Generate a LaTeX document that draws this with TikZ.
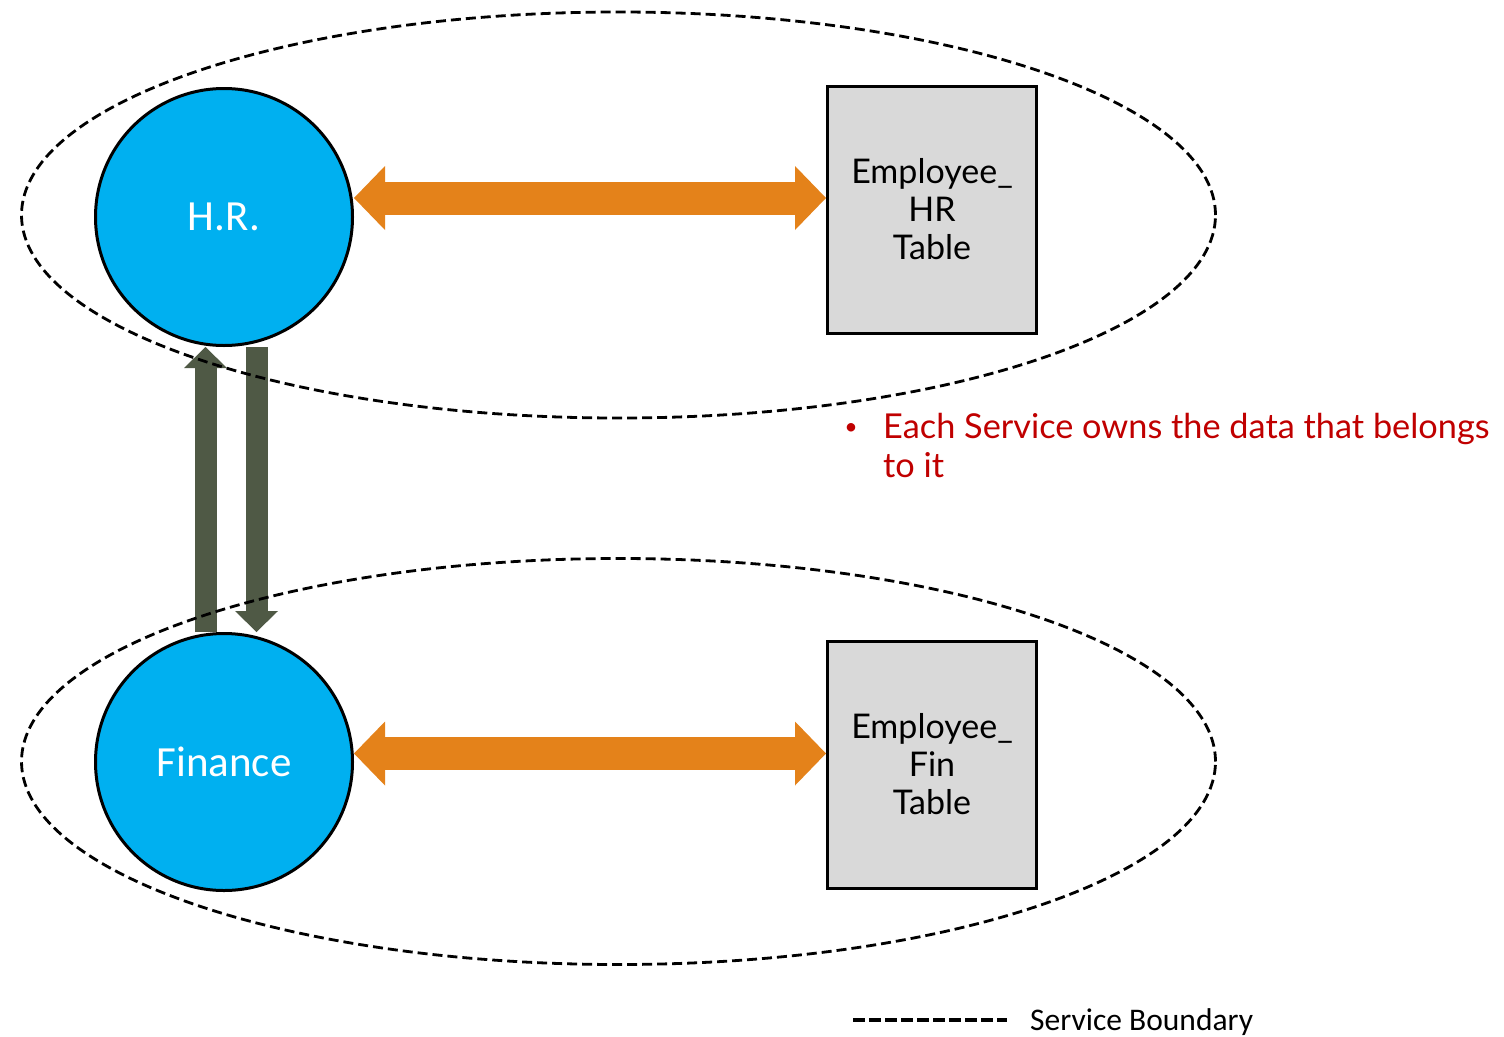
\documentclass[tikz,border=0pt]{standalone}
\usepackage{fontspec}
\setmainfont{Carlito}
\newfontfamily\handfont{Lato}
\usetikzlibrary{arrows.meta,calc}
\definecolor{svcblue}{HTML}{00B0F0}
\definecolor{flow}{HTML}{E4821A}
\definecolor{callgreen}{HTML}{4F5945}
\definecolor{tablegray}{HTML}{D9D9D9}
\definecolor{notered}{HTML}{C00000}

\begin{document}
\begin{tikzpicture}[x=1pt,y=-1pt,
  service/.style={circle, draw=black, line width=3pt, fill=svcblue,
    minimum size=257pt, inner sep=0pt, text=white,
    font=\fontsize{43}{50}\selectfont},
  tablebox/.style={rectangle, draw=black, line width=3pt, fill=tablegray,
    minimum width=209pt, minimum height=247pt, inner sep=0pt, align=center,
    font=\handfont\fontsize{34}{38}\selectfont},
  dataflow/.style={draw=flow, line width=33pt,
    {Triangle[width=64pt,length=31pt,line width=0pt]}-{Triangle[width=64pt,length=31pt,line width=0pt]}},
  callflow/.style={draw=callgreen, line width=22pt,
    -{Triangle[width=43pt,length=21pt,line width=0pt]}},
  boundary/.style={draw=black, line width=2.8pt, dash pattern=on 10pt off 5pt},
]
\useasboundingbox (0,0) rectangle (1504,1036);

% services and their tables
\node[service] (hr)  at (224,217) {H.R.};
\node[service] (fin) at (224,762) {Finance};
\node[tablebox] (hrtab)  at (932,209.5) {Employee\_\\HR\\Table};
\node[tablebox] (fintab) at (932,764.5) {Employee\_\\Fin\\Table};

% each service talks only to its own table
\draw[dataflow] ([yshift=19pt]hr.east) coordinate (hrflow) -- (hrflow -| hrtab.west);
\draw[dataflow] ([yshift=8.5pt]fin.east) coordinate (finflow) -- (finflow -| fintab.west);

% calls between the services
\draw[callflow] ([xshift=-18.5pt]fin.north) -- ([xshift=-18.5pt]hr.south);
\draw[callflow] ([xshift=32.5pt]hr.south) -- ([xshift=32.5pt]fin.north);

% service boundaries
\draw[boundary] (618.5,215) ellipse [x radius=597pt, y radius=203pt];
\draw[boundary] (618.5,761.5) ellipse [x radius=597pt, y radius=203pt];

% note
\node[anchor=base, text=notered, font=\fontsize{24}{30}\selectfont] (bullet) at (851,434) {•};
\node[anchor=base west, inner sep=0pt, text=notered, font=\handfont\fontsize{34.3}{39}\selectfont] (note) at (883,438)
  {\parbox[t]{640pt}{\raggedright Each Service owns the data that belongs\\to it}};

% legend
\coordinate (legA) at (853,1020);
\coordinate (legB) at (1007,1020);
\draw[draw=black, line width=3.2pt, dash pattern=on 12pt off 4pt] (legA) -- (legB);
\node[anchor=base west, inner sep=0pt, font=\fontsize{31.5}{36}\selectfont] (legend) at (1030,1030) {Service Boundary};
\end{tikzpicture}
\end{document}
